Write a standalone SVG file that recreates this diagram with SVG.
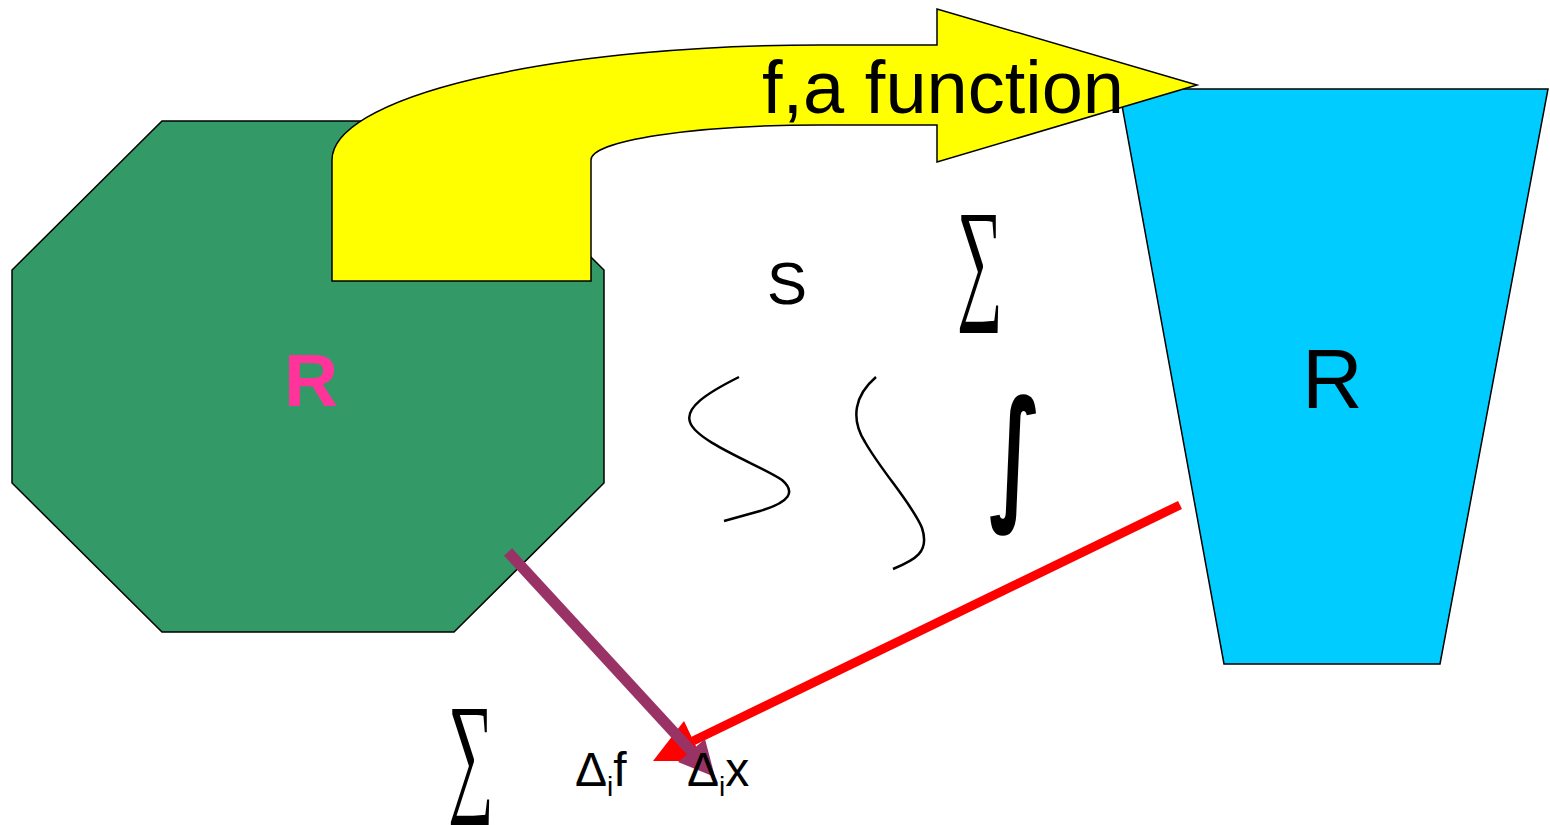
<svg xmlns="http://www.w3.org/2000/svg" width="1550" height="825" viewBox="0 0 1550 825">
<style>
.sh{stroke:#000;stroke-width:1.5;stroke-linejoin:miter}
.t{font-family:"Liberation Sans",Arial,sans-serif;fill:#000}
.sym{font-family:"Liberation Serif","DejaVu Serif",serif;fill:#000}
.cv{fill:none;stroke:#000;stroke-width:2.5;stroke-linecap:butt}
</style>
<rect width="1550" height="825" fill="#fff"/>
<g id="octagon">
<polygon class="sh" fill="#339966" points="162,121 454,121 604,270 604,483 454,632 162,632 12,483 12,270"/>
<text class="t" x="284" y="406" font-size="75" font-weight="bold" style="fill:#FF3399">R</text>
</g>
<g id="trapezoid">
<polygon class="sh" fill="#00CCFF" points="1119,89 1548,89 1440,664 1224,664"/>
<text class="t" x="1302" y="408" font-size="84">R</text>
</g>
<g id="function-arrow">
<path class="sh" fill="#FFFF00" d="M332,281 L332,160 A488,115 0 0 1 820,45 L937,45 L937,9 L1197,85 L937,162 L937,125 L820,125 A229,35 0 0 0 591,160 L591,281 Z"/>
<text class="t" x="762" y="113" font-size="74">f,a function</text>
</g>
<g id="symbols">
<text class="t" x="767" y="304" font-size="60">S</text>
<text class="sym" transform="translate(957,304) scale(0.8,1.7)" font-size="80">∑</text>
<text class="sym" transform="translate(448,798) scale(0.8,1.7)" font-size="80">∑</text>
<text transform="translate(989,503) scale(0.66,1.11)" font-size="130" font-weight="bold" style="font-family:'DejaVu Sans',sans-serif">∫</text>
<path class="cv" d="M739,377 C705,394 685,408 690,422 C696,442 762,466 782,480 C796,492 790,502 760,511 L724,521"/>
<path class="cv" d="M876,377 C855,395 850,418 865,442 C882,472 913,505 922,528 C930,552 915,560 893,569"/>
</g>
<g id="connectors">
<line x1="1180" y1="505" x2="693" y2="741" stroke="#FF0000" stroke-width="9"/>
<polygon fill="#FF0000" points="653,761 684,721 703,761"/>
<line x1="508" y1="552" x2="693" y2="753" stroke="#993366" stroke-width="11"/>
<polygon fill="#993366" points="715,777 705,739 678,762"/>
</g>
<g id="labels">
<text class="t" x="575" y="786" font-size="48">Δ<tspan font-size="28" dy="10">i</tspan><tspan dy="-10">f</tspan></text>
<text class="t" x="687" y="786" font-size="48">Δ<tspan font-size="28" dy="10">i</tspan><tspan dy="-10">x</tspan></text>
</g>
</svg>
